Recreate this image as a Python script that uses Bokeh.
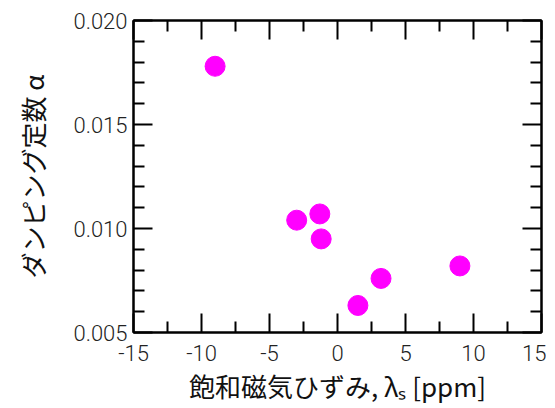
from bokeh.plotting import figure
from bokeh.models import Range1d, FixedTicker, LinearAxis, PrintfTickFormatter, ColumnDataSource
from bokeh.embed import file_html
from bokeh.resources import INLINE

# Data
magnetostriction = [-9.0, -3.0, -1.3, -1.2, 3.2, 1.5, 9.0]
damping = [0.0178, 0.0104, 0.0107, 0.0095, 0.0076, 0.0063, 0.0082]

x_ticks = [-15, -10, -5, 0, 5, 10, 15]
x_minor = [-12.5, -7.5, -2.5, 2.5, 7.5, 12.5]
y_ticks = [0.005, 0.010, 0.015, 0.020]
y_minor = [0.006, 0.007, 0.008, 0.009, 0.011, 0.012, 0.013, 0.014, 0.016, 0.017, 0.018, 0.019]

x_label = "飽和磁気ひずみ, λₛ [ppm]"
y_label = "ダンピング定数 α"

TICK_FONT = "'Roboto Light', 'Noto Sans CJK JP Light', Roboto, sans-serif"
LABEL_FONT = "'Noto Sans CJK JP', sans-serif"

p = figure(width=546, height=407, output_backend="svg", toolbar_location=None,
           x_range=Range1d(-15, 15), y_range=Range1d(0.005, 0.020),
           min_border_left=133, min_border_right=5, min_border_top=20, min_border_bottom=75)

p.background_fill_color = "white"
p.border_fill_color = "white"
p.outline_line_color = "black"
p.outline_line_width = 2
p.grid.visible = False

src = ColumnDataSource(dict(x=magnetostriction, y=damping))
p.scatter("x", "y", source=src, size=20, fill_color="#FF00FF", line_color="#FF00FF")

def style(ax, ticks, minor, fmt, show_labels=True):
    ax.ticker = FixedTicker(ticks=ticks, minor_ticks=minor)
    ax.formatter = PrintfTickFormatter(format=fmt)
    ax.axis_line_color = "black"
    ax.axis_line_width = 2
    ax.major_tick_line_color = "black"
    ax.major_tick_line_width = 2
    ax.minor_tick_line_color = "black"
    ax.minor_tick_line_width = 2
    ax.major_tick_in = 19
    ax.major_tick_out = 0
    ax.minor_tick_in = 11
    ax.minor_tick_out = 0
    ax.major_label_text_font = TICK_FONT
    ax.major_label_text_font_size = "22px"
    ax.major_label_text_color = "#222222"
    if not show_labels:
        ax.major_label_text_alpha = 0
        ax.major_label_text_font_size = "1px"

xa = p.xaxis[0]
style(xa, x_ticks, x_minor, "%d")
xa.major_label_standoff = 12
xa.axis_label = x_label
xa.axis_label_text_font = LABEL_FONT
xa.axis_label_text_font_style = "normal"
xa.axis_label_text_font_size = "26px"
xa.axis_label_text_color = "#111111"
xa.axis_label_standoff = 3

ya = p.yaxis[0]
style(ya, y_ticks, y_minor, "%.3f")
ya.major_label_standoff = 6
ya.axis_label = y_label
ya.axis_label_text_font = LABEL_FONT
ya.axis_label_text_font_style = "normal"
ya.axis_label_text_font_size = "26px"
ya.axis_label_text_color = "#111111"
ya.axis_label_standoff = 19

top = LinearAxis()
style(top, x_ticks, x_minor, "%d", show_labels=False)
top.major_label_standoff = 0
p.add_layout(top, "above")

right = LinearAxis()
style(right, y_ticks, y_minor, "%.3f", show_labels=False)
right.major_label_standoff = 0
p.add_layout(right, "right")

open("out.html", "w").write(file_html(p, INLINE))
